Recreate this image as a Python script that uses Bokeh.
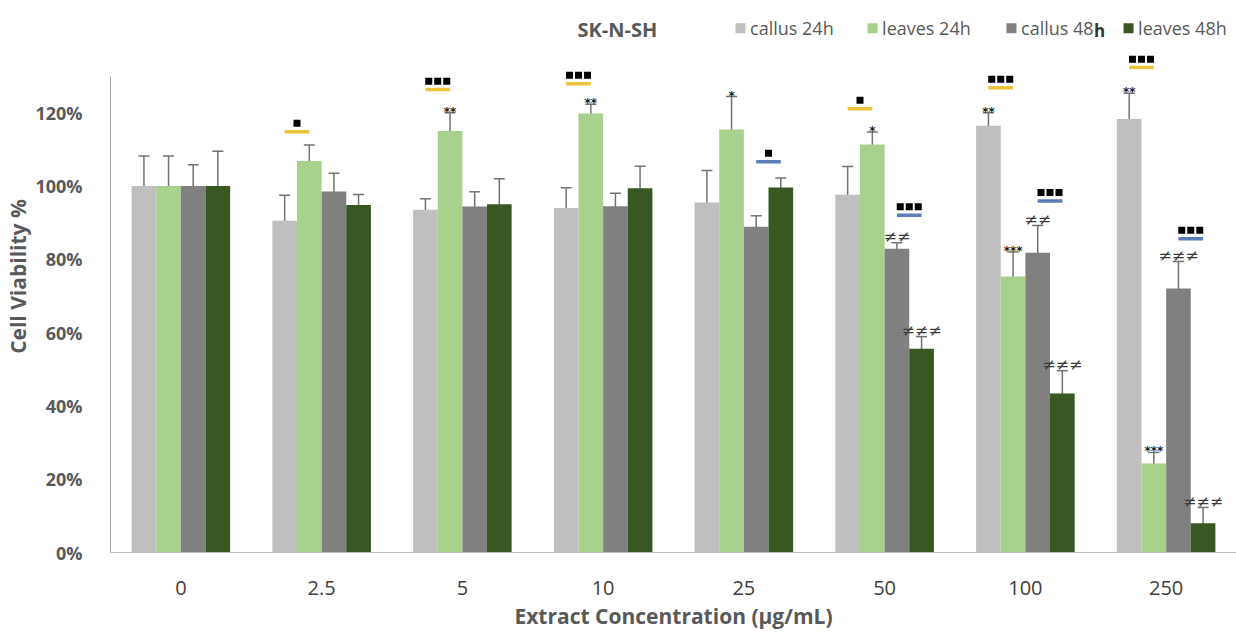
from bokeh.plotting import figure
from bokeh.models import Range1d, FixedTicker, Whisker, ColumnDataSource, TeeHead
from bokeh.embed import file_html
from bokeh.resources import INLINE
from bokeh.core.properties import value
import numpy as np

# ---------------- data ----------------
concentrations = ["0", "2.5", "5", "10", "25", "50", "100", "250"]
series_names = ["callus 24h", "leaves 24h", "callus 48h", "leaves 48h"]
series_colors = ["#BFBFBF", "#A9D18E", "#808080", "#385723"]

callus_24h = [100, 90.5, 93.5, 94.0, 95.5, 97.6, 116.4, 118.3]
callus_24h_err = [8.2, 7.0, 3.0, 5.5, 8.7, 7.7, 3.6, 7.0]
leaves_24h = [100, 106.8, 115.0, 119.8, 115.4, 111.3, 75.3, 24.3]
leaves_24h_err = [8.2, 4.4, 5.0, 2.5, 9.0, 3.4, 6.7, 3.0]
callus_48h = [100, 98.5, 94.4, 94.5, 88.9, 82.9, 81.8, 72.0]
callus_48h_err = [5.8, 5.0, 4.0, 3.5, 3.0, 1.6, 7.4, 7.4]
leaves_48h = [100, 94.8, 95.0, 99.4, 99.6, 55.6, 43.4, 8.0]
leaves_48h_err = [9.5, 2.9, 7.0, 6.0, 2.6, 3.3, 6.2, 4.3]

# significance marks: (category index, label)
callus24_stars_idx = [6, 7]
callus24_stars = ["**", "**"]
leaves24_stars_idx = [2, 3, 4, 5, 6, 7]
leaves24_stars = ["**", "**", "*", "*", "***", "***"]
callus48_hash_idx = [5, 6, 7]
callus48_hash = ["\u2260\u2260", "\u2260\u2260", "\u2260\u2260\u2260"]
leaves48_hash_idx = [5, 6, 7]
leaves48_hash = ["\u2260\u2260\u2260", "\u2260\u2260\u2260", "\u2260\u2260\u2260"]

# comparison bars (yellow: callus vs leaves 24h, blue: callus vs leaves 48h)
yellow_idx = [1, 2, 3, 5, 6, 7]
yellow_level = [114.8, 126.3, 127.9, 121.1, 126.8, 132.3]
yellow_count = [1, 3, 3, 1, 3, 3]
blue_idx = [4, 5, 6, 7]
blue_level = [106.6, 92.0, 95.9, 85.6]
blue_count = [1, 3, 3, 3]

y_ticks = [0, 20, 40, 60, 80, 100, 120]

# ---------------- figure ----------------
TXT = "#595959"
FONT = "Open Sans"

p = figure(width=1236, height=637, output_backend="svg", toolbar_location=None,
           x_range=Range1d(-0.5, 7.5), y_range=Range1d(0, 150.6),
           min_border_left=110, min_border_right=0, min_border_top=0, min_border_bottom=85)
p.outline_line_color = None
p.grid.visible = False

bw = 0.175
offsets = [-1.5 * bw, -0.5 * bw, 0.5 * bw, 1.5 * bw]
vals = [callus_24h, leaves_24h, callus_48h, leaves_48h]
errs = [callus_24h_err, leaves_24h_err, callus_48h_err, leaves_48h_err]
idx = np.arange(len(concentrations))

ERRC = "#737373"
tops = []
for k in range(4):
    v = np.array(vals[k], dtype=float)
    e = np.array(errs[k], dtype=float)
    src = ColumnDataSource(dict(x=idx + offsets[k], top=v, upper=v + e, lower=v - e))
    p.vbar(x="x", top="top", width=bw, source=src, fill_color=series_colors[k], line_color=None)
    w = Whisker(base="x", upper="upper", lower="lower", source=src,
                line_color=ERRC, line_width=1.5,
                upper_head=TeeHead(size=11, line_color=ERRC, line_width=1.5),
                lower_head=TeeHead(size=11, line_color=ERRC, line_width=1.5))
    p.add_layout(w)
    tops.append(v + e)

def add_marks(series_k, ids, labels, size, color, yoff, style="normal"):
    xs = [i + offsets[series_k] for i in ids]
    ys = [tops[series_k][i] for i in ids]
    p.text(x=xs, y=ys, text=labels, text_align="center", text_baseline="alphabetic",
           y_offset=yoff, text_font=value("DejaVu Sans"), text_font_size=size,
           text_color=color, text_font_style=style)

add_marks(0, callus24_stars_idx, callus24_stars, "12px", "#1A1A1A", -1, "bold")
add_marks(1, leaves24_stars_idx, leaves24_stars, "12px", "#1A1A1A", -1, "bold")
add_marks(2, callus48_hash_idx, callus48_hash, "16px", "#3A3A3A", -6)
add_marks(3, leaves48_hash_idx, leaves48_hash, "16px", "#3A3A3A", -6)

# comparison lines with square markers above
sq_step = 0.064   # spacing between the little squares (category units)
sq_lift = 2.3     # lift of the squares above their line (% units)

def add_comparison(ids, levels, counts, shift, color):
    cx = np.array(ids, dtype=float) + shift
    lv = np.array(levels, dtype=float)
    p.segment(x0=cx - bw / 2, x1=cx + bw / 2, y0=lv, y1=lv, line_color=color, line_width=3.5)
    sx, sy = [], []
    for c, l, n in zip(cx, lv, counts):
        for j in range(n):
            sx.append(c + (j - (n - 1) / 2) * sq_step)
            sy.append(l + sq_lift)
    p.scatter(x=sx, y=sy, marker="square", size=7, fill_color="#000000", line_color=None)

add_comparison(yellow_idx, yellow_level, yellow_count, -bw, "#EBC33A")
add_comparison(blue_idx, blue_level, blue_count, bw, "#5B7DB5")

# axes
p.yaxis.bounds = (0, 130)
p.yaxis.ticker = FixedTicker(ticks=y_ticks)
p.yaxis.major_label_overrides = {t: f"{t}%" for t in y_ticks}
p.yaxis.axis_line_color = "#A6A6A6"
p.yaxis.major_tick_line_color = None
p.yaxis.minor_tick_line_color = None
p.yaxis.major_label_text_font = FONT
p.yaxis.major_label_text_font_style = "bold"
p.yaxis.major_label_text_font_size = "18px"
p.yaxis.major_label_text_color = TXT
p.yaxis.major_label_standoff = 22
p.yaxis.axis_label = "Cell Viability %"
p.yaxis.axis_label_text_font = FONT
p.yaxis.axis_label_text_font_style = "bold"
p.yaxis.axis_label_text_font_size = "21px"
p.yaxis.axis_label_text_color = TXT
p.yaxis.axis_label_standoff = 0

p.xaxis.ticker = FixedTicker(ticks=list(range(len(concentrations))))
p.xaxis.major_label_overrides = {i: c for i, c in enumerate(concentrations)}
p.xaxis.axis_line_color = "#BFBFBF"
p.xaxis.major_tick_line_color = None
p.xaxis.minor_tick_line_color = None
p.xaxis.major_label_text_font = FONT
p.xaxis.major_label_text_font_size = "20px"
p.xaxis.major_label_text_color = "#404040"
p.xaxis.major_label_standoff = 22
p.xaxis.axis_label = "Extract Concentration (\u03bcg/mL)"
p.xaxis.axis_label_text_font = FONT
p.xaxis.axis_label_text_font_style = "bold"
p.xaxis.axis_label_text_font_size = "21px"
p.xaxis.axis_label_text_color = TXT
p.xaxis.axis_label_standoff = 4

# title and legend (top, above the axis)
leg_y = 143.0
p.text(x=[2.818], y=[leg_y - 0.4], text=["SK-N-SH"], text_baseline="middle",
       text_font=value(FONT), text_font_style="bold", text_font_size="20px", text_color=TXT)
leg_sq_x = [3.976, 4.914, 5.901, 6.733]
p.scatter(x=leg_sq_x, y=[leg_y] * 4, marker="square", size=10, fill_color=series_colors, line_color=None)
leg_txt_x = [xx + 0.068 for xx in leg_sq_x]
for k, name in enumerate(series_names):
    if name.endswith("48h") and name.startswith("callus"):
        # the original legend shows a bold final "h" here
        p.text(x=[leg_txt_x[k]], y=[leg_y], text=[name[:-1]], text_baseline="middle",
               text_font=value(FONT), text_font_size="18px", text_color=TXT)
        p.text(x=[leg_txt_x[k]], y=[leg_y], text=[name[-1]], text_baseline="middle", x_offset=73,
               y_offset=2, text_font=value(FONT), text_font_style="bold", text_font_size="17px",
               text_color="#333333")
    else:
        p.text(x=[leg_txt_x[k]], y=[leg_y], text=[name], text_baseline="middle",
               text_font=value(FONT), text_font_size="18px", text_color=TXT)

open("out.html", "w").write(file_html(p, INLINE))
